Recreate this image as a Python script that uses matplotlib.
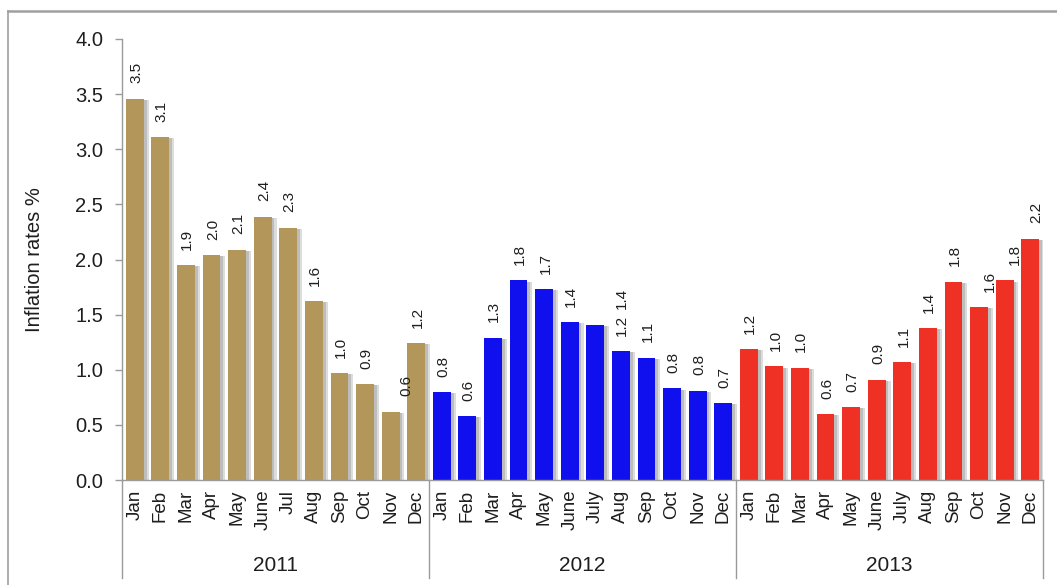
import matplotlib.pyplot as plt
from matplotlib.lines import Line2D
import numpy as np

plt.rcParams['font.family'] = ['Liberation Sans', 'DejaVu Sans']

# Monthly inflation rates (%)
years = ['2011', '2012', '2013']
months_2011 = ['Jan', 'Feb', 'Mar', 'Apr', 'May', 'June', 'Jul', 'Aug', 'Sep', 'Oct', 'Nov', 'Dec']
months_2012 = ['Jan', 'Feb', 'Mar', 'Apr', 'May', 'June', 'July', 'Aug', 'Sep', 'Oct', 'Nov', 'Dec']
months_2013 = ['Jan', 'Feb', 'Mar', 'Apr', 'May', 'June', 'July', 'Aug', 'Sep', 'Oct', 'Nov', 'Dec']
rates_2011 = [3.46, 3.11, 1.95, 2.04, 2.09, 2.39, 2.29, 1.62, 0.97, 0.87, 0.62, 1.24]
rates_2012 = [0.80, 0.58, 1.29, 1.81, 1.73, 1.43, 1.41, 1.17, 1.11, 0.83, 0.81, 0.70]
rates_2013 = [1.19, 1.03, 1.02, 0.60, 0.66, 0.91, 1.07, 1.38, 1.80, 1.57, 1.81, 2.19]

colors = ['#B39659', '#1010EE', '#EE3124']
text_color = '#1E1E1E'
line_color = '#9A9A9A'

# a few value labels sit off-centre (shift in bar slots)
label_nudge = {10: 0.55, 18: 1.0, 33: 0.35, 34: 0.35, 35: 0.2}

groups = [(months_2011, rates_2011), (months_2012, rates_2012), (months_2013, rates_2013)]
labels = [m for g in groups for m in g[0]]
values = np.array([v for g in groups for v in g[1]])
bar_colors = [colors[i] for i, g in enumerate(groups) for _ in g[1]]
x = np.arange(len(values))

fig = plt.figure(figsize=(10.57, 5.85), dpi=100)
ax = fig.add_axes([122 / 1057, 1 - 480 / 585, (1043 - 122) / 1057, 441 / 585])

# soft drop shadow behind the bars
ax.bar(x + 0.18, values - 0.01, width=0.72, color='#DCDCDC', zorder=1)
ax.bar(x + 0.10, values - 0.01, width=0.72, color='#BDBDBD', zorder=1.5)
ax.bar(x, values, width=0.70, color=bar_colors, zorder=2)

for i, v in enumerate(values):
    ax.annotate(f'{v:.1f}', (x[i] + label_nudge.get(i, 0.0), v), xytext=(1, 11),
                textcoords='offset points', rotation=90, ha='center', va='bottom',
                fontsize=11, color=text_color)

ax.set_xlim(-0.5, len(values) - 0.5)
ax.set_ylim(0, 4.0)
ax.set_yticks(np.arange(0, 4.01, 0.5))
ax.set_yticklabels([f'{t:.1f}' for t in np.arange(0, 4.01, 0.5)])
ax.set_xticks(x)
ax.set_xticklabels(labels, rotation=90, va='top')
ax.tick_params(axis='x', length=0, pad=7, labelsize=13.5, labelcolor=text_color)
ax.tick_params(axis='y', length=5, width=1, color=line_color, pad=8.5,
               labelsize=14.5, labelcolor=text_color)
fig.text(35 / 1057, 1 - 259.5 / 585, 'Inflation rates %', rotation=90,
         ha='center', va='center', fontsize=14.5, color=text_color)

for side in ['top', 'right']:
    ax.spines[side].set_visible(False)
for side in ['left', 'bottom']:
    ax.spines[side].set_color(line_color)
    ax.spines[side].set_linewidth(1)

# year separators and labels under the month ticks
trans = ax.get_xaxis_transform()
n = 0
for i, (months, rates) in enumerate(groups):
    ax.add_line(Line2D([n - 0.5, n - 0.5], [0, -0.222], transform=trans,
                       color=line_color, lw=1, clip_on=False))
    ax.text(n + len(rates) / 2 - 0.5, -0.193, years[i], transform=trans,
            ha='center', va='center', fontsize=15, color=text_color)
    n += len(rates)
ax.add_line(Line2D([n - 0.5, n - 0.5], [0, -0.222], transform=trans,
                   color=line_color, lw=1, clip_on=False))

# outer frame
fx, fy = 8 / 1057, 1 - 10.5 / 585
fig.add_artist(Line2D([fx, 1], [fy, fy], transform=fig.transFigure, color='#A0A0A0', lw=1.8))
fig.add_artist(Line2D([fx, fx], [0, fy], transform=fig.transFigure, color='#A0A0A0', lw=1.2))

fig.savefig('out.png', dpi=100)
